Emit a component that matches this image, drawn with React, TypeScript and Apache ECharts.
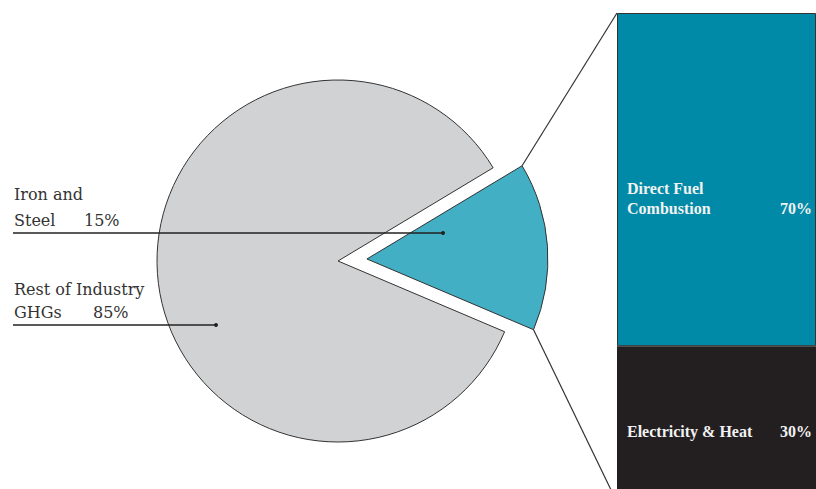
import React, { useEffect, useRef } from "react";
import * as echarts from "echarts";

const sliceNames = ["Iron and Steel", "Rest of Industry GHGs"];
const sliceValues = [15, 85];
const barNames = ["Electricity & Heat", "Direct Fuel Combustion"];
const barValues = [30, 70];

const W = 816;
const H = 489;
const CX = 338;
const CY = 261;
const R = 181;
const START = 31;
const OFFSET = 29;

const TEAL_SLICE = "#43afc4";
const GREY = "#d1d2d4";
const TEAL_BAR = "#008aa7";
const DARK_BAR = "#231f20";
const EDGE = "#333333";

const BAR_LEFT = 617;
const BAR_TOP = 13;
const BAR_HEIGHT = 481;

export default function App() {
  const ref = useRef<HTMLDivElement>(null);
  useEffect(() => {
    if (!ref.current) return;
    const chart = echarts.init(ref.current, undefined, { renderer: "svg" });

    const total = sliceValues.reduce((a, b) => a + b, 0);
    const sweep = (sliceValues[0] / total) * 360;
    const endA = START - sweep;
    const midA = ((START + endA) / 2) * (Math.PI / 180);
    const ax = CX + OFFSET * Math.cos(midA);
    const ay = CY - OFFSET * Math.sin(midA);
    const pt = (deg: number, r: number) => [
      ax + r * Math.cos((deg * Math.PI) / 180),
      ay - r * Math.sin((deg * Math.PI) / 180),
    ];
    const topCorner = pt(START, R);
    const botCorner = pt(endA, R);
    const barBottomY = BAR_TOP + BAR_HEIGHT;
    const dot1 = [443, 233];
    const dot2 = [216, 325];

    const leftFont = { fontFamily: "DejaVu Serif", fontSize: 16, fill: "#333333" };
    const rightFont = {
      fontFamily: "Liberation Serif",
      fontSize: 16,
      fontWeight: "bold",
      fill: "#f2f2f2",
    };

    const splitY = BAR_TOP + (barValues[1] / (barValues[0] + barValues[1])) * BAR_HEIGHT;

    chart.setOption({
      animation: false,
      grid: { left: BAR_LEFT, top: BAR_TOP, width: W - BAR_LEFT, height: BAR_HEIGHT },
      xAxis: { type: "category", data: ["share"], show: false },
      yAxis: { type: "value", min: 0, max: 100, show: false },
      series: [
        {
          type: "pie",
          center: [CX, CY],
          radius: R,
          startAngle: START,
          clockwise: true,
          selectedMode: "single",
          selectedOffset: OFFSET,
          label: { show: false },
          labelLine: { show: false },
          emphasis: { disabled: true },
          itemStyle: { borderColor: EDGE, borderWidth: 1 },
          data: [
            {
              name: sliceNames[0],
              value: sliceValues[0],
              selected: true,
              itemStyle: { color: TEAL_SLICE },
              select: { itemStyle: { color: TEAL_SLICE, borderColor: EDGE, borderWidth: 1 } },
            },
            { name: sliceNames[1], value: sliceValues[1], itemStyle: { color: GREY } },
          ],
        },
        {
          type: "bar",
          stack: "total",
          barWidth: "100%",
          name: barNames[0],
          data: [barValues[0]],
          itemStyle: { color: DARK_BAR },
          emphasis: { disabled: true },
        },
        {
          type: "bar",
          stack: "total",
          barWidth: "100%",
          name: barNames[1],
          data: [barValues[1]],
          itemStyle: { color: TEAL_BAR, borderColor: EDGE, borderWidth: 1 },
          emphasis: { disabled: true },
        },
      ],
      graphic: [
        {
          type: "line",
          z: 100,
          shape: { x1: topCorner[0], y1: topCorner[1], x2: BAR_LEFT, y2: BAR_TOP },
          style: { stroke: EDGE, lineWidth: 1.2 },
        },
        {
          type: "line",
          z: 100,
          shape: { x1: botCorner[0], y1: botCorner[1], x2: BAR_LEFT - 4, y2: barBottomY },
          style: { stroke: EDGE, lineWidth: 1.2 },
        },
        {
          type: "line",
          z: 100,
          shape: { x1: 13, y1: dot1[1], x2: dot1[0], y2: dot1[1] },
          style: { stroke: "#222", lineWidth: 1.5 },
        },
        { type: "circle", z: 100, shape: { cx: dot1[0], cy: dot1[1], r: 2 }, style: { fill: "#222" } },
        {
          type: "line",
          z: 100,
          shape: { x1: 13, y1: dot2[1], x2: dot2[0], y2: dot2[1] },
          style: { stroke: "#222", lineWidth: 1.5 },
        },
        { type: "circle", z: 100, shape: { cx: dot2[0], cy: dot2[1], r: 2 }, style: { fill: "#222" } },
        { type: "text", z: 100, x: 14, y: 194, style: { ...leftFont, text: "Iron and", verticalAlign: "middle" } },
        { type: "text", z: 100, x: 14, y: 220, style: { ...leftFont, text: "Steel", verticalAlign: "middle" } },
        { type: "text", z: 100, x: 84, y: 220, style: { ...leftFont, text: sliceValues[0] + "%", verticalAlign: "middle" } },
        { type: "text", z: 100, x: 14, y: 289, style: { ...leftFont, text: "Rest of Industry", verticalAlign: "middle" } },
        { type: "text", z: 100, x: 14, y: 312, style: { ...leftFont, text: "GHGs", verticalAlign: "middle" } },
        { type: "text", z: 100, x: 93, y: 312, style: { ...leftFont, text: sliceValues[1] + "%", verticalAlign: "middle" } },
        { type: "text", z: 100, x: 627, y: 188, style: { ...rightFont, text: "Direct Fuel", verticalAlign: "middle" } },
        { type: "text", z: 100, x: 627, y: 208, style: { ...rightFont, text: "Combustion", verticalAlign: "middle" } },
        { type: "text", z: 100, x: 812, y: 208, style: { ...rightFont, text: barValues[1] + "%", align: "right", verticalAlign: "middle" } },
        { type: "text", z: 100, x: 627, y: splitY + 82, style: { ...rightFont, text: barNames[0], verticalAlign: "middle" } },
        { type: "text", z: 100, x: 812, y: splitY + 82, style: { ...rightFont, text: barValues[0] + "%", align: "right", verticalAlign: "middle" } },
      ],
    });
    return () => chart.dispose();
  }, []);
  return (
    <div
      ref={ref}
      style={{ position: "absolute", left: 0, top: 0, width: W, height: H, background: "#fff" }}
    />
  );
}
